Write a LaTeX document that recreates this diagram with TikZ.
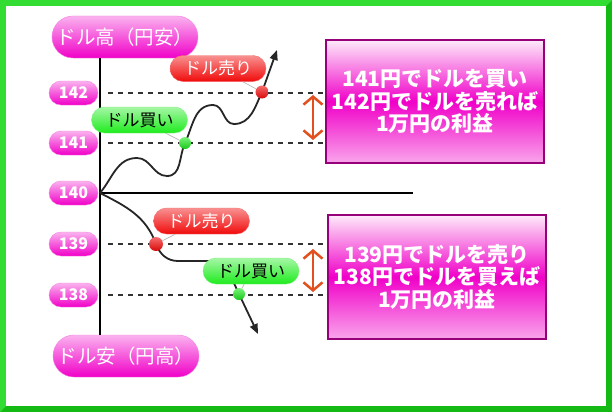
\documentclass[tikz,border=0pt]{standalone}
\usepackage{fontspec}
\setmainfont{Noto Sans CJK JP}
\usetikzlibrary{arrows.meta, positioning, calc}
\definecolor{framegreen}{RGB}{50, 220, 50}
\definecolor{framedark}{RGB}{20, 185, 20}
\definecolor{pillmag}{RGB}{240, 0, 200}
\definecolor{boxedge}{RGB}{150, 0, 120}
\definecolor{sellred}{RGB}{240, 10, 10}
\definecolor{buygreen}{RGB}{30, 235, 30}
\definecolor{gaporange}{RGB}{225, 80, 30}

\begin{document}
\begin{tikzpicture}[x=1pt, y=1pt,
    axislabel/.style={rounded corners=21pt, minimum width=146pt, minimum height=42pt, inner sep=0pt,
        top color=pillmag!30!white, bottom color=pillmag, draw=pillmag!50!white, text=white,
        font=\fontsize{19.5}{20}\selectfont},
    pricetag/.style={rounded corners=12pt, minimum width=49pt, minimum height=24pt, inner sep=0pt,
        top color=pillmag!30!white, bottom color=pillmag, draw=pillmag!50!white, text=white,
        font=\bfseries\fontsize{16}{16}\selectfont},
    sellpill/.style={rounded corners=13pt, minimum width=96pt, minimum height=26pt, inner sep=0pt,
        top color=sellred!45!white, bottom color=sellred, draw=sellred!60!white, text=white,
        font=\fontsize{17}{17}\selectfont},
    buypill/.style={rounded corners=13pt, minimum width=96pt, minimum height=26pt, inner sep=0pt,
        top color=buygreen!40!white, bottom color=buygreen, draw=buygreen!60!white, text=black,
        font=\fontsize{17}{17}\selectfont},
    profitbox/.style={minimum width=218pt, minimum height=123pt, align=center, inner sep=0pt,
        top color=pillmag!8!white, bottom color=pillmag!35!white, middle color=pillmag,
        draw=boxedge, line width=1.5pt, text=white, font=\bfseries\fontsize{21}{22.5}\selectfont},
    selldot/.style={circle, minimum size=13pt, inner sep=0pt, top color=sellred!60!white, bottom color=sellred!90!black},
    buydot/.style={circle, minimum size=12pt, inner sep=0pt, top color=buygreen!60!white, bottom color=buygreen!85!black},
    guide/.style={line width=1.5pt, dash pattern=on 5pt off 5pt, black!80},
    curve/.style={line width=1.8pt, black!85, -{Triangle[length=10pt, width=8pt]}},
    gap/.style={line width=2.5pt, gaporange, {Straight Barb[length=8pt, width=19pt]}-{Straight Barb[length=8pt, width=19pt]}},
    pointer/.style={line width=0.6pt, gray!60},
]
% Frame
\fill[framedark] (0,0) rectangle (612,-412);
\fill[framegreen] (0,0) -- (612,0) -- (606,-6) -- (6,-6) -- (6,-406) -- (0,-412) -- cycle;
\fill[white] (6,-6) rectangle (606,-406);

% Axis labels
\node[axislabel] (hi) at (125,-37) {ドル高（円安）};
\node[axislabel] (lo) at (126,-356) {ドル安（円高）};

% Price tags
\node[pricetag] (p142) at (73.5,-93) {142};
\node[pricetag] (p141) at (73.5,-143) {141};
\node[pricetag] (p140) at (73.5,-193) {140};
\node[pricetag] (p139) at (73.5,-244) {139};
\node[pricetag] (p138) at (73.5,-295) {138};

% Profit boxes
\node[profitbox] (boxA) at (435,-101.5) {141円でドルを買い\\142円でドルを売れば\\1万円の利益};
\node[profitbox, minimum height=124pt] (boxB) at (437,-277) {139円でドルを売り\\138円でドルを買えば\\1万円の利益};

% Axes
\coordinate (origin) at (100,-193);
\coordinate (xend) at (413,-193);
\draw[line width=2pt] (hi.south -| origin) -- (lo.north -| origin);
\draw[line width=2pt] (origin) -- (xend);

% Guides
\draw[guide] ([xshift=10pt]p142.east) -- (p142 -| boxA.west);
\draw[guide] ([xshift=10pt]p141.east) -- (p141 -| boxA.west);
\draw[guide] ([xshift=10pt]p139.east) -- (p139 -| boxB.west);
\draw[guide] ([xshift=10pt]p138.east) -- (p138 -| boxB.west);

% Gaps
\coordinate (gapAtop) at (313,-95);
\coordinate (gapAbot) at (313,-140);
\coordinate (gapBtop) at (313,-249);
\coordinate (gapBbot) at (313,-292);
\draw[gap] (gapAtop) -- (gapAbot);
\draw[gap] (gapBtop) -- (gapBbot);

% Trade points
\coordinate (buyA) at (185,-143);
\coordinate (sellA) at (262,-92);
\coordinate (sellB) at (156,-244);
\coordinate (buyB) at (239,-294);
\coordinate (upTip) at (277,-50);
\coordinate (downTip) at (258,-334);

% Price paths
\draw[curve] (origin) to[out=50, in=180] (137,-158) to[out=0, in=180] (167,-176)
    to[out=0, in=245] (buyA) to[out=65, in=180] (213,-105) to[out=0, in=180] (234,-124)
    to[out=0, in=245] (sellA) -- (upTip);
\draw[curve] (origin) to[out=-27, in=110] (sellB) to[out=-70, in=180] (178,-261)
    -- (207,-261) to[out=0, in=115] (buyB) -- (downTip);

% Tags
\node[sellpill] (sellTagA) at (218,-68.5) {ドル売り};
\node[buypill] (buyTagA) at (139.5,-120) {ドル買い};
\node[sellpill] (sellTagB) at (201.5,-221) {ドル売り};
\node[buypill] (buyTagB) at (251,-271) {ドル買い};

\node[buydot] (buyDotA) at (buyA) {};
\node[selldot] (sellDotA) at (sellA) {};
\node[selldot, minimum size=14pt] (sellDotB) at (sellB) {};
\node[buydot] (buyDotB) at (buyB) {};

\draw[pointer] (buyTagA) -- (buyDotA);
\draw[pointer] (sellTagA) -- (sellDotA);
\draw[pointer] (sellTagB) -- (sellDotB);
\draw[pointer] (buyTagB) -- (buyDotB);
\end{tikzpicture}
\end{document}
